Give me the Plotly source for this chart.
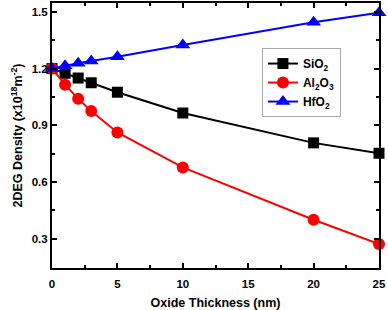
import plotly.graph_objects as go

thickness = [0, 1, 2, 3, 5, 10, 20, 25]
sio2 = [1.2, 1.175, 1.15, 1.125, 1.075, 0.965, 0.807, 0.752]
al2o3 = [1.2, 1.115, 1.04, 0.975, 0.862, 0.677, 0.40, 0.272]
hfo2 = [1.2, 1.215, 1.228, 1.24, 1.263, 1.325, 1.445, 1.495]

x_ticks = [0, 5, 10, 15, 20, 25]
y_ticks = [0.3, 0.6, 0.9, 1.2, 1.5]
series_names = ["<b>SiO<sub>2</sub></b>", "<b>Al<sub>2</sub>O<sub>3</sub></b>", "<b>HfO<sub>2</sub></b>"]

FONT = "Arial, Liberation Sans, sans-serif"

fig = go.Figure()
fig.add_trace(go.Scatter(x=thickness, y=sio2, name=series_names[0], mode="lines+markers",
                         line=dict(color="black", width=2),
                         marker=dict(symbol="square", size=11, color="black"),
                         cliponaxis=False))
fig.add_trace(go.Scatter(x=thickness, y=al2o3, name=series_names[1], mode="lines+markers",
                         line=dict(color="#ff0000", width=2),
                         marker=dict(symbol="circle", size=12, color="#ff0000"),
                         cliponaxis=False))
fig.add_trace(go.Scatter(x=thickness, y=hfo2, name=series_names[2], mode="lines+markers",
                         line=dict(color="#0000ff", width=2),
                         marker=dict(symbol="triangle-up", size=13, color="#0000ff"),
                         cliponaxis=False))

axis_common = dict(showline=True, linecolor="black", linewidth=2, mirror="ticks",
                   ticks="inside", ticklen=5, tickwidth=1.5, tickcolor="black",
                   showgrid=False, zeroline=False,
                   tickfont=dict(family=FONT, size=11.5, color="black", weight="bold"))

fig.update_xaxes(range=[0, 25], tickvals=x_ticks, ticklabelstandoff=4,
                 minor=dict(ticks="inside", ticklen=3, tickwidth=1.5, tickcolor="black", dtick=2.5),
                 title=dict(text="<b>Oxide Thickness (nm)</b>", font=dict(family=FONT, size=12.5, color="black"), standoff=10),
                 **axis_common)
fig.update_yaxes(range=[0.145, 1.547], tickvals=y_ticks, tickformat=".1f",
                 minor=dict(ticks="inside", ticklen=3, tickwidth=1.5, tickcolor="black", dtick=0.15, tick0=0.15),
                 title=dict(text="<b>2DEG Density (x10<sup>18</sup>m<sup>-2</sup>)</b>", font=dict(family=FONT, size=12.5, color="black"), standoff=6),
                 **axis_common)

fig.update_layout(width=388, height=310, margin=dict(l=52, r=9, t=3, b=42, autoexpand=False),
                  plot_bgcolor="white", paper_bgcolor="white",
                  legend=dict(x=0.642, y=0.83, xanchor="left", yanchor="top",
                              bgcolor="white", bordercolor="#aaaaaa", borderwidth=1,
                              font=dict(family=FONT, size=12, color="black"),
                              itemwidth=30, tracegroupgap=0),
                  showlegend=True)

fig.write_html("out.html", config={"displayModeBar": False},
               post_script="document.body.style.margin='0';document.body.style.padding='0';")
